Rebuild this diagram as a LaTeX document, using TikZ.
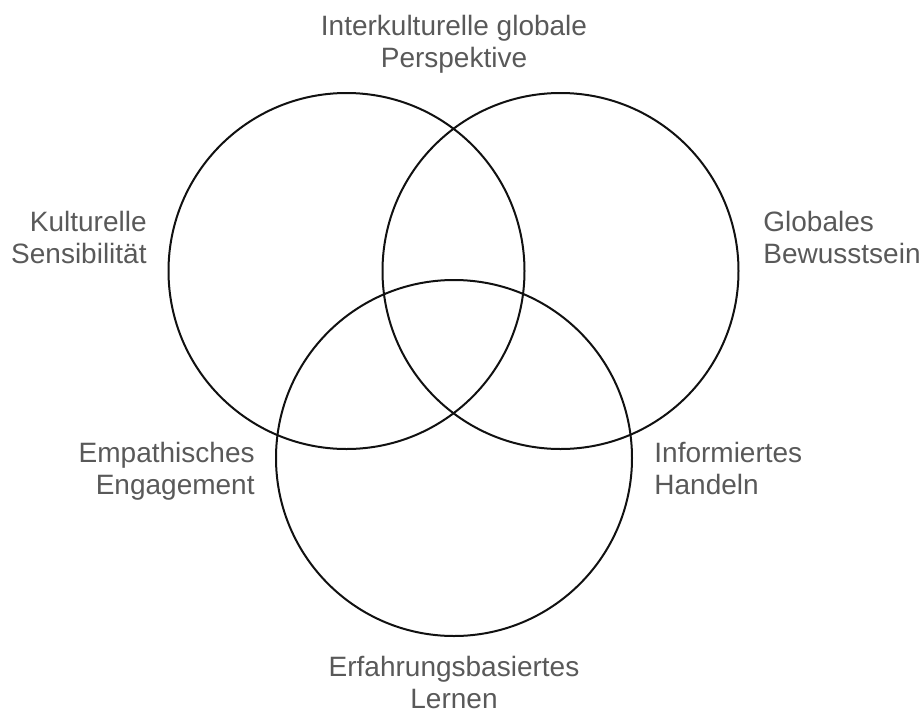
\documentclass[tikz,border=0pt]{standalone}
\usepackage{fontspec}
\setmainfont{Liberation Sans}
\usetikzlibrary{positioning}
\definecolor{ink}{HTML}{111111}
\definecolor{labelgray}{HTML}{595959}
\tikzset{ring/.style={circle,draw=ink,line width=1pt,minimum size=178pt,inner sep=0pt},lbl/.style={font=\fontsize{14}{16}\selectfont,text=labelgray,inner sep=0pt}}

\begin{document}
\begin{tikzpicture}[x=0.5pt,y=-0.5pt]
\useasboundingbox (0,0) rectangle (922,713);
\node[ring] (kult) at (346.5,271) {};
\node[ring] (glob) at (560.5,271) {};
\node[ring] (erf) at (454,458) {};
\node[lbl,align=center] (ikgp) at (454,43.8) {Interkulturelle globale\\Perspektive};
\node[lbl,align=right,anchor=east] (ksens) at (147,237.5) {Kulturelle\\Sensibilität};
\node[lbl,align=left,anchor=west] (gbew) at (763,237) {Globales\\Bewusstsein};
\node[lbl,align=right,anchor=east] (empe) at (255,471.7) {Empathisches\\Engagement};
\node[lbl,align=left,anchor=west] (infh) at (654,468.8) {Informiertes\\Handeln};
\node[lbl,align=center] (erfl) at (454,682.8) {Erfahrungsbasiertes\\Lernen};
\end{tikzpicture}
\end{document}
